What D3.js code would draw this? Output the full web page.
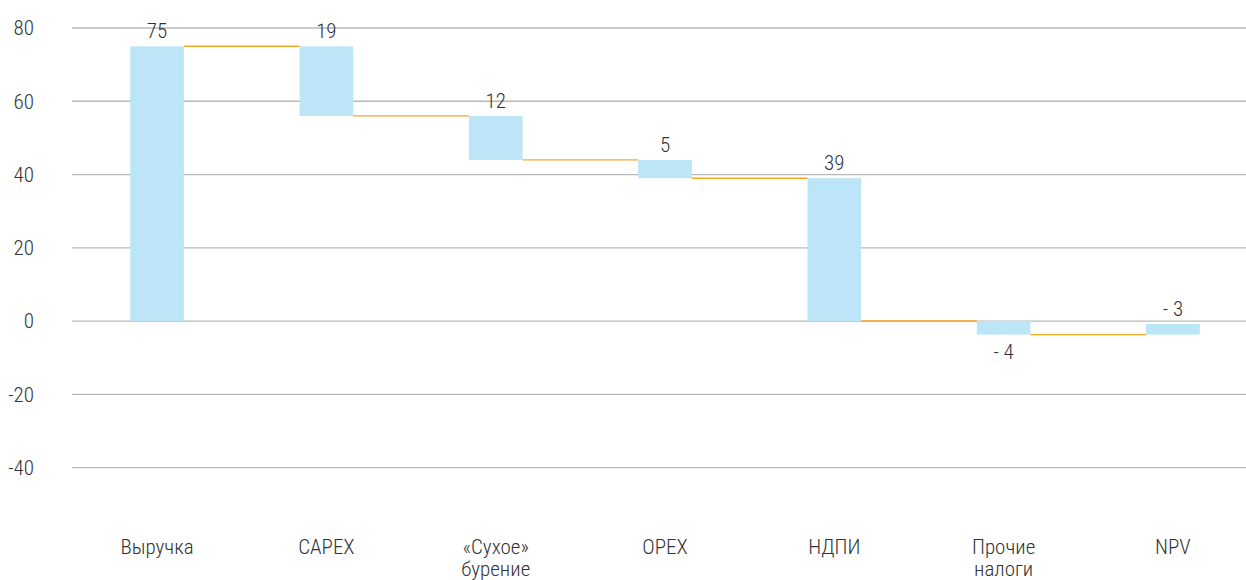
<!DOCTYPE html>
<html>
<head>
<meta charset="utf-8">
<script src="https://cdn.jsdelivr.net/npm/d3@7"></script>
<style>
    body { margin: 0; background: #fff; }
    svg text {
        font-family: 'Roboto Condensed', 'Liberation Sans Narrow', 'DejaVu Sans Condensed', Roboto, sans-serif;
        font-weight: 300;
        fill: #333;
    }
</style>
</head>
<body>
<div id="chart"></div>
<script>
// Chart data
const categories = ['Выручка', 'CAPEX', '«Сухое» бурение', 'OPEX', 'НДПИ', 'Прочие налоги', 'NPV'];
const barStart = [0, 75, 56, 44, 39, 0, -0.8];
const barEnd = [75, 56, 44, 39, 0, -3.7, -3.7];
const valueLabels = ['75', '19', '12', '5', '39', '- 4', '- 3'];
const labelSide = ['top', 'top', 'top', 'top', 'top', 'bottom', 'top'];
const yTicks = [80, 60, 40, 20, 0, -20, -40];

const WIDTH = 1246;
const HEIGHT = 580;
const FONT_SIZE = '21px';
const BAR_COLOR = '#bde5f8';
const LINK_COLOR = '#f7a823';
const GRID_COLOR = '#b8b8b8';

const svg = d3.select('#chart')
    .append('svg')
    .attr('width', WIDTH)
    .attr('height', HEIGHT);

const y = d3.scaleLinear()
    .domain([-40, 80])
    .range([467.6, 28]);

const x = d3.scaleBand()
    .domain(categories)
    .range([72, 1258])
    .paddingInner(0.683)
    .paddingOuter(0.344);

// Gridlines
svg.append('g')
    .selectAll('line')
    .data(yTicks)
    .join('line')
    .attr('x1', 72)
    .attr('x2', WIDTH)
    .attr('y1', d => y(d))
    .attr('y2', d => y(d))
    .style('stroke', GRID_COLOR)
    .style('stroke-width', 1.3);

// Y tick labels
svg.append('g')
    .selectAll('text')
    .data(yTicks)
    .join('text')
    .attr('x', 34)
    .attr('y', d => y(d))
    .attr('dy', '0.35em')
    .attr('text-anchor', 'end')
    .style('font-size', FONT_SIZE)
    .text(d => d);

// Bars
svg.append('g')
    .selectAll('rect')
    .data(categories)
    .join('rect')
    .attr('x', d => x(d))
    .attr('width', x.bandwidth())
    .attr('y', (d, i) => y(Math.max(barStart[i], barEnd[i])))
    .attr('height', (d, i) => Math.abs(y(barStart[i]) - y(barEnd[i])))
    .style('fill', BAR_COLOR);

// Connector lines between bars
svg.append('g')
    .selectAll('line')
    .data(categories.slice(0, -1))
    .join('line')
    .attr('x1', d => x(d) + x.bandwidth())
    .attr('x2', (d, i) => x(categories[i + 1]))
    .attr('y1', (d, i) => y(barEnd[i]))
    .attr('y2', (d, i) => y(barEnd[i]))
    .style('stroke', LINK_COLOR)
    .style('stroke-width', 1.4);

// Value labels
svg.append('g')
    .selectAll('text')
    .data(categories)
    .join('text')
    .attr('x', d => x(d) + x.bandwidth() / 2)
    .attr('y', (d, i) => labelSide[i] === 'top'
        ? y(Math.max(barStart[i], barEnd[i])) - 8
        : y(Math.min(barStart[i], barEnd[i])) + 24)
    .attr('text-anchor', 'middle')
    .style('font-size', FONT_SIZE)
    .text((d, i) => valueLabels[i]);

// Category labels (two-word labels go on two lines)
const catLabel = svg.append('g')
    .selectAll('text')
    .data(categories)
    .join('text')
    .attr('x', d => x(d) + x.bandwidth() / 2)
    .attr('y', 554)
    .attr('text-anchor', 'middle')
    .style('font-size', FONT_SIZE);

catLabel.each(function(d) {
    const words = d.split(' ');
    const t = d3.select(this);
    words.forEach((w, k) => {
        t.append('tspan')
            .attr('x', x(d) + x.bandwidth() / 2)
            .attr('dy', k === 0 ? 0 : 22)
            .text(w);
    });
});
</script>
</body>
</html>
